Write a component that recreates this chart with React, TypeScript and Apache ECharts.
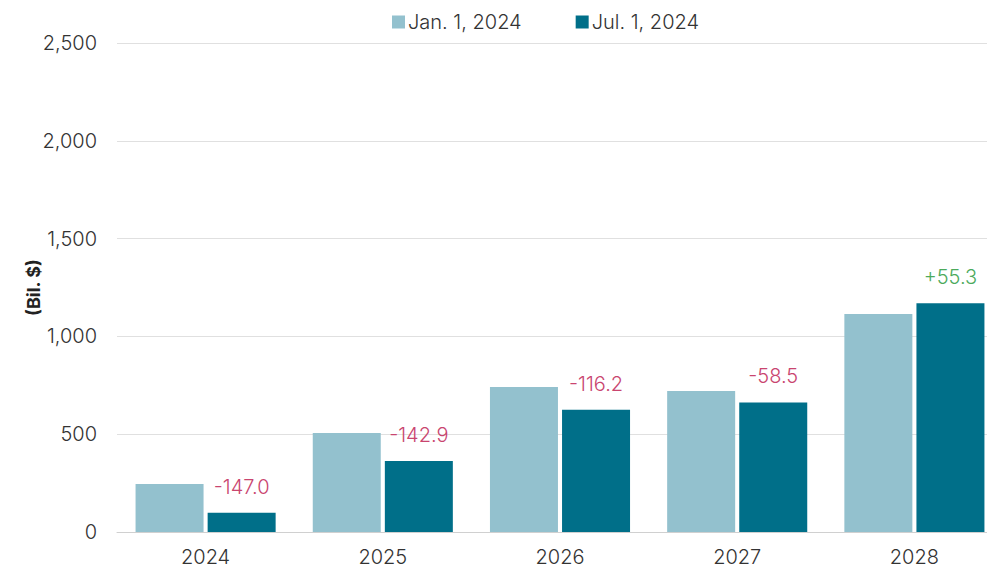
import React, { useEffect, useRef } from "react";
import * as echarts from "echarts";

const categories = ["2024", "2025", "2026", "2027", "2028"];
const jan2024 = [245, 506, 741, 721, 1114];
const jul2024 = [98, 363, 625, 662.5, 1169];
const changeLabels = ["-147.0", "-142.9", "-116.2", "-58.5", "+55.3"];
const seriesNames = ["Jan. 1, 2024", "Jul. 1, 2024"];

const FONT = "Inter";

export default function App() {
  const ref = useRef<HTMLDivElement>(null);
  useEffect(() => {
    if (!ref.current) return;
    const chart = echarts.init(ref.current, null, { renderer: "svg" });
    chart.setOption({
      animation: false,
      textStyle: { fontFamily: FONT },
      legend: {
        top: 7,
        left: 387,
        itemWidth: 13,
        itemHeight: 13,
        itemGap: 54,
        icon: "rect",
        textStyle: { fontSize: 20, color: "#333", fontFamily: FONT, fontWeight: 300, padding: [0, 0, 0, -2] },
        data: seriesNames,
      },
      grid: { left: 117, right: 0, top: 43, bottom: 36 },
      xAxis: {
        type: "category",
        data: categories,
        axisLine: { lineStyle: { color: "#d0d0d0", width: 1 } },
        axisTick: { show: false },
        axisLabel: { fontSize: 20, color: "#333", margin: 15, fontFamily: FONT, fontWeight: 300 },
      },
      yAxis: {
        type: "value",
        min: 0,
        max: 2500,
        interval: 500,
        name: "(Bil. $)",
        nameLocation: "middle",
        nameGap: 75,
        nameMoveOverlap: false,
        nameTextStyle: { fontSize: 18, fontWeight: "bold", color: "#222", fontFamily: FONT },
        axisLabel: {
          fontSize: 20,
          color: "#333",
          margin: 20,
          fontFamily: FONT,
          fontWeight: 300,
          formatter: (v: number) => v.toLocaleString("en-US"),
        },
        splitLine: { lineStyle: { color: "#e0e0e0", width: 1 } },
        axisLine: { show: false },
        axisTick: { show: false },
      },
      series: [
        {
          name: seriesNames[0],
          type: "bar",
          data: jan2024,
          barWidth: 68,
          barGap: "6%",
          itemStyle: { color: "#93c1ce" },
        },
        {
          name: seriesNames[1],
          type: "bar",
          data: jul2024.map((v, i) => ({
            value: v,
            label: { color: changeLabels[i].startsWith("+") ? "#4caa5c" : "#c9456f" },
          })),
          barWidth: 68,
          itemStyle: { color: "#006f89" },
          label: {
            show: true,
            position: "top",
            distance: 16,
            fontSize: 20,
            fontFamily: FONT,
            fontWeight: 300,
            formatter: (p: any) => changeLabels[p.dataIndex],
          },
        },
      ],
    });
    return () => chart.dispose();
  }, []);
  return (
    <div
      style={{ position: "fixed", left: 0, top: 0, width: 987, height: 568, overflow: "hidden", background: "#fff" }}
    >
      <div ref={ref} style={{ width: 1003, height: 568 }} />
    </div>
  );
}
